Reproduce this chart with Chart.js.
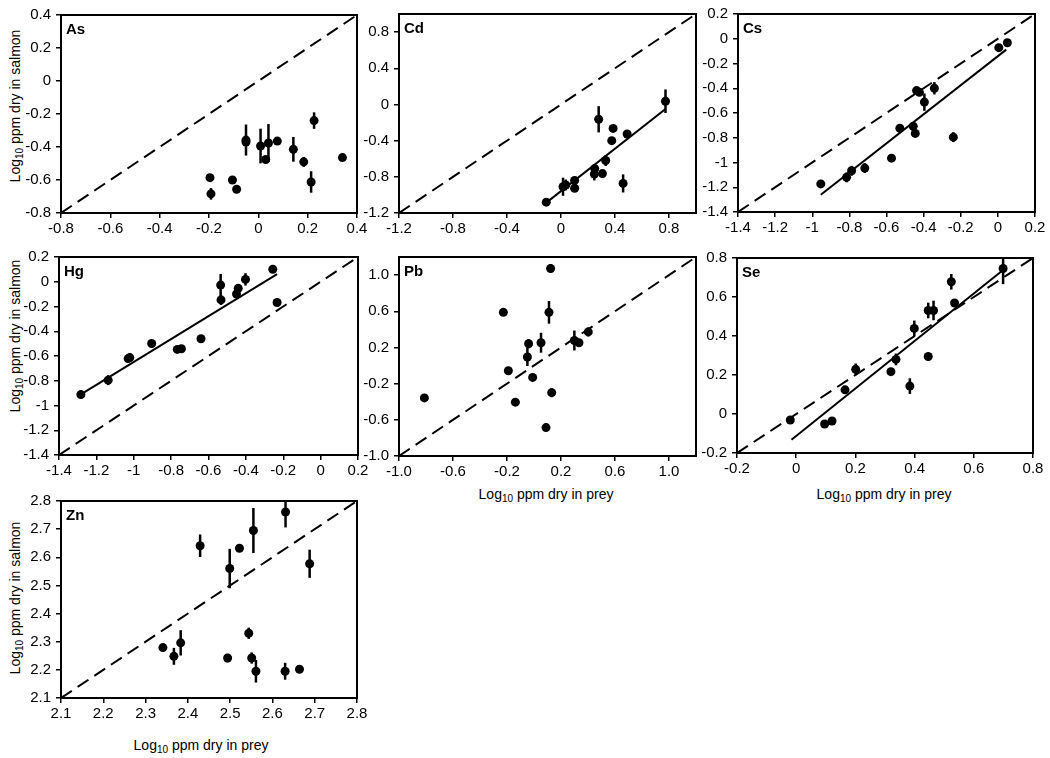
<!DOCTYPE html>
<html>
<head>
<meta charset="utf-8">
<title>Log10 ppm dry in salmon vs prey</title>
<script src="https://cdn.jsdelivr.net/npm/chart.js@4.4.1/dist/chart.umd.min.js"></script>
<style>
    body { margin: 0; background: #fff; width: 1050px; height: 758px; position: relative; overflow: hidden;
           font-family: "Liberation Sans", Arial, sans-serif; color: #000; }
    canvas { position: absolute; }
    .ytitle, .xtitle { position: absolute; font-size: 14px; white-space: nowrap; }
    .ytitle { transform: translate(-50%, -50%) rotate(-90deg); }
    .xtitle { transform: translate(-50%, -50%); }
    sub { font-size: 10px; vertical-align: -3px; line-height: 0; }
</style>
</head>
<body>
<div class="ytitle" style="left:15px; top:106px">Log<sub>10</sub> ppm dry in salmon</div>
<div class="ytitle" style="left:15px; top:336px">Log<sub>10</sub> ppm dry in salmon</div>
<div class="ytitle" style="left:15px; top:598px">Log<sub>10</sub> ppm dry in salmon</div>
<div class="xtitle" style="left:546px; top:494px">Log<sub>10</sub> ppm dry in prey</div>
<div class="xtitle" style="left:884px; top:494px">Log<sub>10</sub> ppm dry in prey</div>
<div class="xtitle" style="left:201px; top:745px">Log<sub>10</sub> ppm dry in prey</div>

<script>
// Data (log10 ppm dry; x = prey, y = salmon, err = half bar)
const asTicks = ['-0.8', '-0.6', '-0.4', '-0.2', '0', '0.2', '0.4'];
const asRange = [-0.8, 0.4];
const asX = [-0.196, -0.192, -0.105, -0.088, -0.05, -0.05, 0.009, 0.03, 0.041, 0.077, 0.142, 0.184, 0.214, 0.226, 0.341];
const asY = [-0.586, -0.684, -0.6, -0.656, -0.358, -0.37, -0.394, -0.476, -0.376, -0.364, -0.414, -0.49, -0.612, -0.24, -0.464];
const asErr = [0.02, 0.035, 0, 0.02, 0.094, 0.02, 0.105, 0.02, 0.115, 0.02, 0.075, 0.03, 0.065, 0.05, 0.015];

const cdTicks = ['-1.2', '-0.8', '-0.4', '0', '0.4', '0.8'];
const cdRange = [-1.2, 1.0];
const cdX = [-0.109, 0.015, 0.035, 0.101, 0.101, 0.25, 0.247, 0.279, 0.307, 0.331, 0.376, 0.386, 0.46, 0.49, 0.774];
const cdY = [-1.08, -0.91, -0.89, -0.84, -0.927, -0.709, -0.77, -0.164, -0.764, -0.62, -0.4, -0.265, -0.873, -0.327, 0.036];
const cdErr = [0.02, 0.1, 0.06, 0.03, 0.03, 0.03, 0.07, 0.145, 0.03, 0.06, 0.03, 0.02, 0.1, 0.02, 0.13];
const cdFitX = [-0.104, 0.774];
const cdFitY = [-1.08, -0.05];

const csTicks = ['-1.4', '-1.2', '-1', '-0.8', '-0.6', '-0.4', '-0.2', '0', '0.2'];
const csRange = [-1.4, 0.2];
const csX = [-0.954, -0.815, -0.788, -0.717, -0.573, -0.528, -0.456, -0.445, -0.438, -0.423, -0.396, -0.342, -0.24, 0.005, 0.051];
const csY = [-1.173, -1.12, -1.067, -1.045, -0.965, -0.723, -0.707, -0.765, -0.419, -0.432, -0.512, -0.4, -0.795, -0.072, -0.032];
const csErr = [0.01, 0.04, 0.04, 0.04, 0.03, 0.02, 0.02, 0.02, 0.02, 0.02, 0.07, 0.05, 0.04, 0.01, 0.01];
const csFitX = [-0.954, 0.045];
const csFitY = [-1.261, -0.088];

const hgTicks = ['-1.4', '-1.2', '-1', '-0.8', '-0.6', '-0.4', '-0.2', '0', '0.2'];
const hgRange = [-1.4, 0.2];
const hgX = [-1.283, -1.137, -1.03, -1.021, -0.904, -0.767, -0.745, -0.64, -0.535, -0.533, -0.45, -0.441, -0.402, -0.256, -0.233];
const hgY = [-0.912, -0.795, -0.621, -0.613, -0.499, -0.547, -0.541, -0.461, -0.027, -0.147, -0.099, -0.053, 0.019, 0.101, -0.168];
const hgErr = [0.03, 0.04, 0.02, 0.02, 0.02, 0.02, 0.02, 0.02, 0.09, 0.04, 0.03, 0.02, 0.05, 0.03, 0.02];
const hgFitX = [-1.283, -0.233];
const hgFitY = [-0.91, 0.061];

const pbTicks = ['-1.0', '-0.6', '-0.2', '0.2', '0.6', '1.0'];
const pbRange = [-1.0, 1.2];
const pbX = [-0.812, -0.227, -0.19, -0.138, -0.049, -0.04, -0.01, 0.052, 0.089, 0.111, 0.123, 0.131, 0.299, 0.333, 0.402];
const pbY = [-0.358, 0.588, -0.058, -0.405, 0.095, 0.241, -0.131, 0.252, -0.686, 0.588, 1.073, -0.3, 0.277, 0.252, 0.372];
const pbErr = [0, 0, 0.04, 0, 0.1, 0.05, 0, 0.11, 0, 0.125, 0.05, 0.05, 0.11, 0.03, 0.05];

const seTicks = ['-0.2', '0', '0.2', '0.4', '0.6', '0.8'];
const seRange = [-0.2, 0.8];
const seX = [-0.02, 0.096, 0.121, 0.165, 0.201, 0.32, 0.337, 0.384, 0.399, 0.446, 0.446, 0.464, 0.524, 0.535, 0.699];
const seY = [-0.031, -0.051, -0.036, 0.124, 0.229, 0.217, 0.28, 0.143, 0.439, 0.295, 0.531, 0.531, 0.678, 0.569, 0.746];
const seErr = [0.01, 0.01, 0.01, 0.02, 0.03, 0.01, 0.03, 0.04, 0.04, 0.01, 0.04, 0.05, 0.04, 0.02, 0.08];
const seFitX = [-0.016, 0.7];
const seFitY = [-0.132, 0.74];

const znTicks = ['2.1', '2.2', '2.3', '2.4', '2.5', '2.6', '2.7', '2.8'];
const znRange = [2.1, 2.8];
const znX = [2.341, 2.367, 2.383, 2.429, 2.494, 2.499, 2.522, 2.544, 2.551, 2.555, 2.561, 2.63, 2.631, 2.664, 2.688];
const znY = [2.279, 2.248, 2.296, 2.641, 2.242, 2.56, 2.632, 2.33, 2.242, 2.695, 2.195, 2.195, 2.761, 2.202, 2.577];
const znErr = [0.005, 0.03, 0.045, 0.04, 0.015, 0.07, 0.005, 0.02, 0.02, 0.08, 0.04, 0.03, 0.055, 0.01, 0.05];

// Plot-area boxes on the page (px)
const BOXES = {
    As: { left: 61, top: 13, width: 296, height: 200 },
    Cd: { left: 399, top: 12, width: 297, height: 201 },
    Cs: { left: 738, top: 12, width: 297, height: 200 },
    Hg: { left: 59, top: 255, width: 299, height: 200 },
    Pb: { left: 399, top: 255, width: 297, height: 201 },
    Se: { left: 737, top: 256, width: 296, height: 197 },
    Zn: { left: 61, top: 499, width: 296, height: 199 }
};
const Y_AXIS_W = 55;
const X_AXIS_H = 30;
const PAD_TOP = 12;
const PAD_RIGHT = 20;
const FONT = "'Liberation Sans', Arial, sans-serif";

// vertical error bars, drawn through the chart's own scales
const errorBars = {
    id: 'errorBars',
    afterDatasetsDraw(chart) {
        const { ctx, chartArea: a, scales: { x, y } } = chart;
        ctx.save();
        ctx.beginPath();
        ctx.rect(a.left, a.top - 1, a.right - a.left, a.bottom - a.top + 2);
        ctx.clip();
        ctx.strokeStyle = '#000';
        ctx.lineWidth = 2.5;
        chart.data.datasets.forEach(ds => {
            if (!ds.errors) return;
            ds.data.forEach((p, i) => {
                const e = ds.errors[i];
                if (!e) return;
                const px = x.getPixelForValue(p.x);
                ctx.beginPath();
                ctx.moveTo(px, y.getPixelForValue(p.y - e));
                ctx.lineTo(px, y.getPixelForValue(p.y + e));
                ctx.stroke();
            });
        });
        ctx.restore();
    }
};

// box round the plot area and the element name in its corner
const panelFrame = {
    id: 'panelFrame',
    afterDraw(chart, args, opts) {
        const { ctx, chartArea: a } = chart;
        ctx.save();
        ctx.strokeStyle = '#000';
        ctx.lineWidth = 2;
        ctx.strokeRect(a.left, a.top, a.right - a.left, a.bottom - a.top);
        ctx.fillStyle = '#000';
        ctx.font = `bold 15px ${FONT}`;
        ctx.textBaseline = 'top';
        ctx.fillText(opts.label, a.left + 5, a.top + 7);
        ctx.restore();
    }
};

function toPoints(xs, ys) {
    return xs.map((v, i) => ({ x: v, y: ys[i] }));
}

function axis(ticks, range, isX) {
    return {
        type: 'linear',
        min: range[0],
        max: range[1],
        afterBuildTicks: s => { s.ticks = ticks.map(t => ({ value: parseFloat(t) })); },
        afterFit: s => { if (isX) s.height = X_AXIS_H; else s.width = Y_AXIS_W; },
        grid: { drawOnChartArea: false, color: '#000', lineWidth: 1.5, tickLength: 5 },
        border: { display: false },
        ticks: {
            color: '#000',
            font: { family: FONT, size: 15 },
            padding: isX ? 2 : 5,
            autoSkip: false,
            maxRotation: 0,
            callback: (v, i) => ticks[i]
        }
    };
}

function drawPanel(name, xs, ys, errs, ticks, range, fitX, fitY) {
    const box = BOXES[name];
    const canvas = document.createElement('canvas');
    canvas.width = Y_AXIS_W + box.width + PAD_RIGHT;
    canvas.height = PAD_TOP + box.height + X_AXIS_H;
    canvas.style.left = (box.left - Y_AXIS_W) + 'px';
    canvas.style.top = (box.top - PAD_TOP) + 'px';
    document.body.appendChild(canvas);

    const datasets = [{
        data: toPoints(range, range),
        showLine: true,
        borderColor: '#000',
        borderWidth: 2,
        borderDash: [13, 7],
        pointRadius: 0
    }];
    if (fitX) {
        datasets.push({
            data: toPoints(fitX, fitY),
            showLine: true,
            borderColor: '#000',
            borderWidth: 2,
            pointRadius: 0
        });
    }
    datasets.push({
        data: toPoints(xs, ys),
        errors: errs,
        backgroundColor: '#000',
        borderWidth: 0,
        pointRadius: 4.5
    });

    new Chart(canvas, {
        type: 'scatter',
        data: { datasets },
        options: {
            responsive: false,
            animation: false,
            events: [],
            layout: { padding: { top: PAD_TOP, right: PAD_RIGHT, left: 0, bottom: 0 } },
            plugins: {
                legend: { display: false },
                tooltip: { enabled: false },
                panelFrame: { label: name }
            },
            scales: {
                x: axis(ticks, range, true),
                y: axis(ticks, range, false)
            }
        },
        plugins: [errorBars, panelFrame]
    });
}

drawPanel('As', asX, asY, asErr, asTicks, asRange);
drawPanel('Cd', cdX, cdY, cdErr, cdTicks, cdRange, cdFitX, cdFitY);
drawPanel('Cs', csX, csY, csErr, csTicks, csRange, csFitX, csFitY);
drawPanel('Hg', hgX, hgY, hgErr, hgTicks, hgRange, hgFitX, hgFitY);
drawPanel('Pb', pbX, pbY, pbErr, pbTicks, pbRange);
drawPanel('Se', seX, seY, seErr, seTicks, seRange, seFitX, seFitY);
drawPanel('Zn', znX, znY, znErr, znTicks, znRange);
</script>
</body>
</html>
